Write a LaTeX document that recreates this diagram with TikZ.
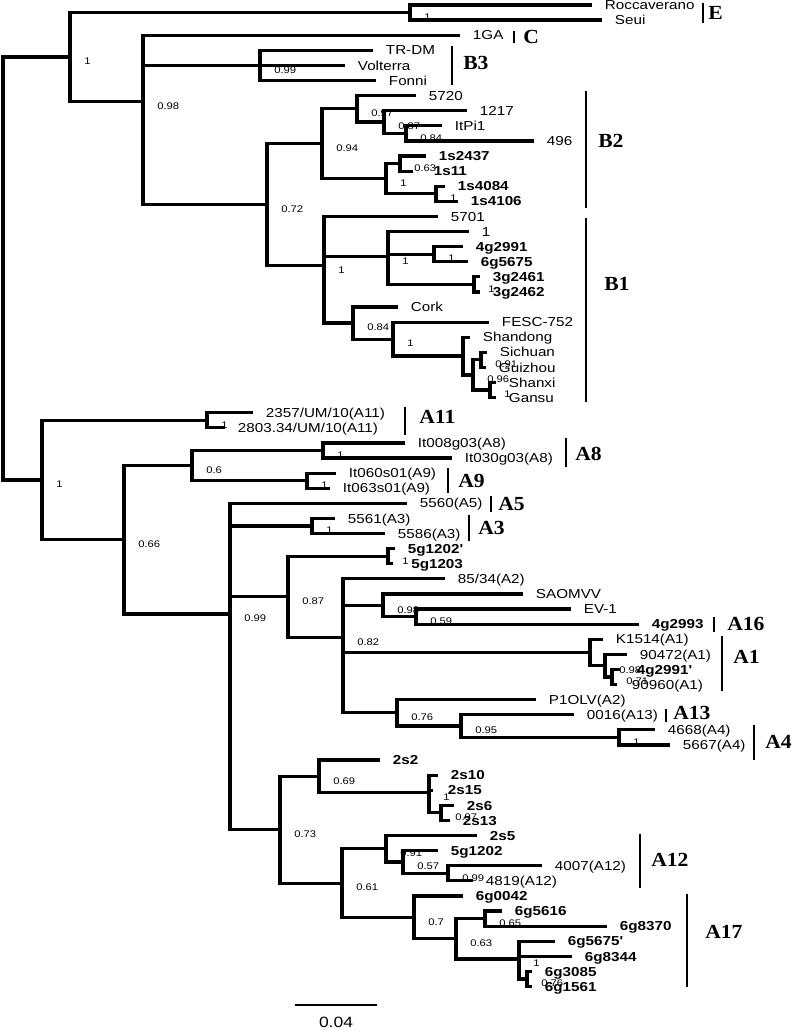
\documentclass[tikz,border=0pt]{standalone}
\usepackage{fontspec}
\newfontfamily\arialx[FakeStretch=1.17]{Liberation Sans}
\newfontfamily\timesx[FakeStretch=1.08]{Liberation Serif}
\usetikzlibrary{positioning}

\begin{document}
\begin{tikzpicture}[x=0.75pt,y=-11.325pt,
  branch/.style={line width=2.4pt},
  cladebar/.style={line width=1.6pt},
  leaf/.style={anchor=west,inner xsep=9.5pt,inner ysep=0pt,text height=7pt,text depth=0pt,
               font=\arialx\fontsize{9.75}{10}\selectfont},
  strain/.style={leaf,font=\arialx\bfseries\fontsize{9.75}{10}\selectfont},
  supp/.style={anchor=west,inner sep=0pt,xshift=10.5pt,yshift=-3.4pt,
               font=\arialx\fontsize{7.2}{8}\selectfont},
  clade/.style={anchor=west,inner sep=0pt,font=\timesx\bfseries\fontsize{15}{15}\selectfont},
  scalelbl/.style={inner sep=0pt,font=\arialx\fontsize{11.2}{12}\selectfont}
]
\useasboundingbox (0,-0.331) rectangle (793,68.01);

% internal nodes (x in px, y in leaf rows)
\coordinate (root) at (3,17.45);
\coordinate (nU) at (70,3.45);
\coordinate (nE) at (410,0.5);
\coordinate (nB) at (143,6.40);
\coordinate (nB3) at (260,4);
\coordinate (nB12) at (267,13.21);
\coordinate (nB2) at (322,9.19);
\coordinate (n5720) at (357,6.875);
\coordinate (n1217) at (384,7.75);
\coordinate (nItPi) at (406,8.5);
\coordinate (n1s) at (386,11.5);
\coordinate (n1s24) at (400,10.5);
\coordinate (n1s40) at (436,12.5);
\coordinate (nB1) at (324,17.24);
\coordinate (n1b) at (388,16.67);
\coordinate (n4g) at (434,16.5);
\coordinate (n3g) at (474,18.5);
\coordinate (nCork) at (353,21.06);
\coordinate (nFESC) at (393,22.125);
\coordinate (nChina) at (463,23.25);
\coordinate (nChin2) at (473,24.5);
\coordinate (nSich) at (481,23.5);
\coordinate (nShan) at (490,25.5);

\coordinate (nL) at (42,31.46);
\coordinate (nA11) at (207,27.5);
\coordinate (n066) at (124,35.41);
\coordinate (n06) at (192,30.5);
\coordinate (nA8) at (323,29.5);
\coordinate (nA9) at (307,31.5);
\coordinate (n099) at (230,40.33);
\coordinate (nA3) at (312,34.5);
\coordinate (n087) at (288,39.19);
\coordinate (n5g) at (388,36.5);
\coordinate (n082) at (343,41.875);
\coordinate (nSAO) at (383,39.75);
\coordinate (nEV) at (416,40.5);
\coordinate (nA1) at (590,42.875);
\coordinate (nA1b) at (605,43.75);
\coordinate (nA1c) at (612,44.5);
\coordinate (nP1) at (397,46.875);
\coordinate (n0016) at (461,47.75);
\coordinate (nA4) at (619,48.5);
\coordinate (n073) at (280,54.61);
\coordinate (n069) at (319,51.08);
\coordinate (n2s) at (429,52.17);
\coordinate (n2s6) at (441,53.5);
\coordinate (n061) at (342,58.15);
\coordinate (n091) at (386,55.875);
\coordinate (n057) at (403,56.75);
\coordinate (nA12) at (448,57.5);
\coordinate (n07) at (414,60.42);
\coordinate (n063) at (456,61.83);
\coordinate (n065) at (485,60.5);
\coordinate (n1g) at (519,63.17);
\coordinate (n6g) at (527,64.5);

% leaves
\node[leaf] (roc) at (592,0) {Roccaverano};
\node[leaf] (seui) at (602,1) {Seui};
\node[leaf] (ga) at (460,2) {1GA};
\node[leaf] (trdm) at (373,3) {TR-DM};
\node[leaf] (volt) at (345,4) {Volterra};
\node[leaf] (fonni) at (376,5) {Fonni};
\node[leaf] (l5720) at (416,6) {5720};
\node[leaf] (l1217) at (467,7) {1217};
\node[leaf] (itpi) at (442,8) {ItPi1};
\node[leaf] (l496) at (534,9) {496};
\node[strain] (s2437) at (426,10) {1s2437};
\node[strain,inner xsep=15.5pt] (s11) at (413,11) {1s11};
\node[strain] (s4084) at (445,12) {1s4084};
\node[strain] (s4106) at (458,13) {1s4106};
\node[leaf] (l5701) at (438,14) {5701};
\node[leaf] (lone) at (469,15) {1};
\node[strain] (g2991) at (463,16) {4g2991};
\node[strain] (g5675) at (468,17) {6g5675};
\node[strain] (g2461) at (480,18) {3g2461};
\node[strain] (g2462) at (480,19) {3g2462};
\node[leaf] (cork) at (398,20) {Cork};
\node[leaf] (fesc) at (489,21) {FESC-752};
\node[leaf] (shd) at (470,22) {Shandong};
\node[leaf] (sch) at (487,23) {Sichuan};
\node[leaf] (gzh) at (486,24) {Guizhou};
\node[leaf] (shx) at (496,25) {Shanxi};
\node[leaf] (gsu) at (496,26) {Gansu};

\node[leaf] (a2357) at (253,27) {2357/UM/10(A11)};
\node[leaf] (a2803) at (225,28) {2803.34/UM/10(A11)};
\node[leaf] (it008) at (405,29) {It008g03(A8)};
\node[leaf] (it030) at (452,30) {It030g03(A8)};
\node[leaf] (it060) at (336,31) {It060s01(A9)};
\node[leaf] (it063) at (330,32) {It063s01(A9)};
\node[leaf] (l5560) at (407,33) {5560(A5)};
\node[leaf] (l5561) at (335,34) {5561(A3)};
\node[leaf] (l5586) at (385,35) {5586(A3)};
\node[strain] (g1202p) at (395,36) {5g1202'};
\node[strain,inner xsep=13.5pt] (g1203) at (393,37) {5g1203};
\node[leaf] (l8534) at (445,38) {85/34(A2)};
\node[leaf] (saom) at (523,39) {SAOMVV};
\node[leaf] (ev1) at (571,40) {EV-1};
\node[strain] (g2993) at (639,41) {4g2993};
\node[leaf] (k1514) at (603,42) {K1514(A1)};
\node[leaf] (l90472) at (627,43) {90472(A1)};
\node[strain,inner xsep=12.5pt] (g2991p) at (620,44) {4g2991'};
\node[leaf,inner xsep=11pt] (l90960) at (617,45) {90960(A1)};
\node[leaf] (p1olv) at (536,46) {P1OLV(A2)};
\node[leaf] (l0016) at (574,47) {0016(A13)};
\node[leaf] (l4668) at (655,48) {4668(A4)};
\node[leaf] (l5667) at (670,49) {5667(A4)};
\node[strain] (s2) at (380,50) {2s2};
\node[strain] (s10) at (438,51) {2s10};
\node[strain,inner xsep=11pt] (s15) at (433,52) {2s15};
\node[strain] (s6) at (454,53) {2s6};
\node[strain] (s13) at (450,54) {2s13};
\node[strain] (s5) at (477,55) {2s5};
\node[strain] (g1202) at (438,56) {5g1202};
\node[leaf] (l4007) at (542,57) {4007(A12)};
\node[leaf] (l4819) at (473,58) {4819(A12)};
\node[strain] (g0042) at (463,59) {6g0042};
\node[strain] (g5616) at (502,60) {6g5616};
\node[strain] (g8370) at (607,61) {6g8370};
\node[strain] (g5675p) at (555,62) {6g5675'};
\node[strain] (g8344) at (572,63) {6g8344};
\node[strain] (g3085) at (532,64) {6g3085};
\node[strain] (g1561) at (532,65) {6g1561};

% branches
\foreach \p/\c in {root/nU,root/nL,nU/nE,nU/nB,nE/roc,nE/seui,
    nB/ga,nB/nB3,nB/nB12,nB3/trdm,nB3/volt,nB3/fonni,nB12/nB2,nB12/nB1,
    nB2/n5720,nB2/n1s,n5720/l5720,n5720/n1217,n1217/l1217,n1217/nItPi,
    nItPi/itpi,nItPi/l496,n1s/n1s24,n1s/n1s40,n1s24/s2437,n1s24/s11,
    n1s40/s4084,n1s40/s4106,nB1/l5701,nB1/n1b,nB1/nCork,n1b/lone,n1b/n4g,n1b/n3g,
    n4g/g2991,n4g/g5675,n3g/g2461,n3g/g2462,nCork/cork,nCork/nFESC,
    nFESC/fesc,nFESC/nChina,nChina/shd,nChina/nChin2,nChin2/nSich,nChin2/nShan,
    nSich/sch,nSich/gzh,nShan/shx,nShan/gsu,
    nL/nA11,nL/n066,nA11/a2357,nA11/a2803,n066/n06,n066/n099,n06/nA8,n06/nA9,
    nA8/it008,nA8/it030,nA9/it060,nA9/it063,
    n099/l5560,n099/nA3,n099/n087,n099/n073,nA3/l5561,nA3/l5586,
    n087/n5g,n087/n082,n5g/g1202p,n5g/g1203,
    n082/l8534,n082/nSAO,n082/nA1,n082/nP1,nSAO/saom,nSAO/nEV,nEV/ev1,nEV/g2993,
    nA1/k1514,nA1/nA1b,nA1b/l90472,nA1b/nA1c,nA1c/g2991p,nA1c/l90960,
    nP1/p1olv,nP1/n0016,n0016/l0016,n0016/nA4,nA4/l4668,nA4/l5667,
    n073/n069,n073/n061,n069/s2,n069/n2s,n2s/s10,n2s/s15,n2s/n2s6,n2s6/s6,n2s6/s13,
    n061/n091,n061/n07,n091/s5,n091/n057,n057/g1202,n057/nA12,nA12/l4007,nA12/l4819,
    n07/g0042,n07/n063,n063/n065,n063/n1g,n065/g5616,n065/g8370,
    n1g/g5675p,n1g/g8344,n1g/n6g,n6g/g3085,n6g/g1561}
  \draw[branch] (\p) |- (\c);

% support values
\foreach \n/\v in {nU/1,nE/1,nB/0.98,nB3/0.99,nB12/0.72,nB2/0.94,n5720/0.97,
    n1217/0.87,nItPi/0.84,n1s/1,n1s24/0.63,n1s40/1,nB1/1,n1b/1,n4g/1,n3g/1,
    nCork/0.84,nFESC/1,nChin2/0.96,nSich/0.91,nShan/1,
    nL/1,nA11/1,n066/0.66,n06/0.6,nA8/1,nA9/1,n099/0.99,nA3/1,n087/0.87,n5g/1,
    n082/0.82,nSAO/0.98,nEV/0.59,nA1b/0.98,nA1c/0.71,nP1/0.76,n0016/0.95,nA4/1,
    n073/0.73,n069/0.69,n2s/1,n2s6/0.97,n061/0.61,n091/0.91,n057/0.57,nA12/0.99,
    n07/0.7,n063/0.63,n065/0.65,n1g/1,n6g/0.76}
  \node[supp] (s\n) at (\n) {\v};

% clade bars
\foreach \x/\a/\b/\lx/\ly/\t in {703/-0.13/1.19/708/0.53/E,514/1.72/2.52/523/2.12/C,
    452/2.72/5.3/463/3.84/B3,586/5.7/13.44/598/9.0/B2,586/14.1/26.3/604/18.5/B1,
    405/26.6/28.5/419/27.3/A11,566/28.7/30.6/575/29.7/A8,448/30.66/32.3/458/31.5/A9,
    491/32.5/33.6/498/33.05/A5,469/33.8/35.5/478/34.6/A3,714/40.5/41.5/727/41.0/A16,
    722/41.8/45.4/733/43.2/A1,666/46.6/47.5/673/46.9/A13,754/47.7/50.0/765/48.8/A4,
    640/54.9/58.5/651/56.6/A12,687/58.9/65.0/705/61.4/A17}
{
  \draw[cladebar] (\x,\a) -- (\x,\b);
  \node[clade] (c\t) at (\lx,\ly) {\t};
}

% scale
\coordinate (sb0) at (295,66.2);
\coordinate (sb1) at (377,66.2);
\draw[cladebar] (sb0) -- (sb1);
\node[scalelbl] (scl) at (336,67.4) {0.04};
\end{tikzpicture}
\end{document}
